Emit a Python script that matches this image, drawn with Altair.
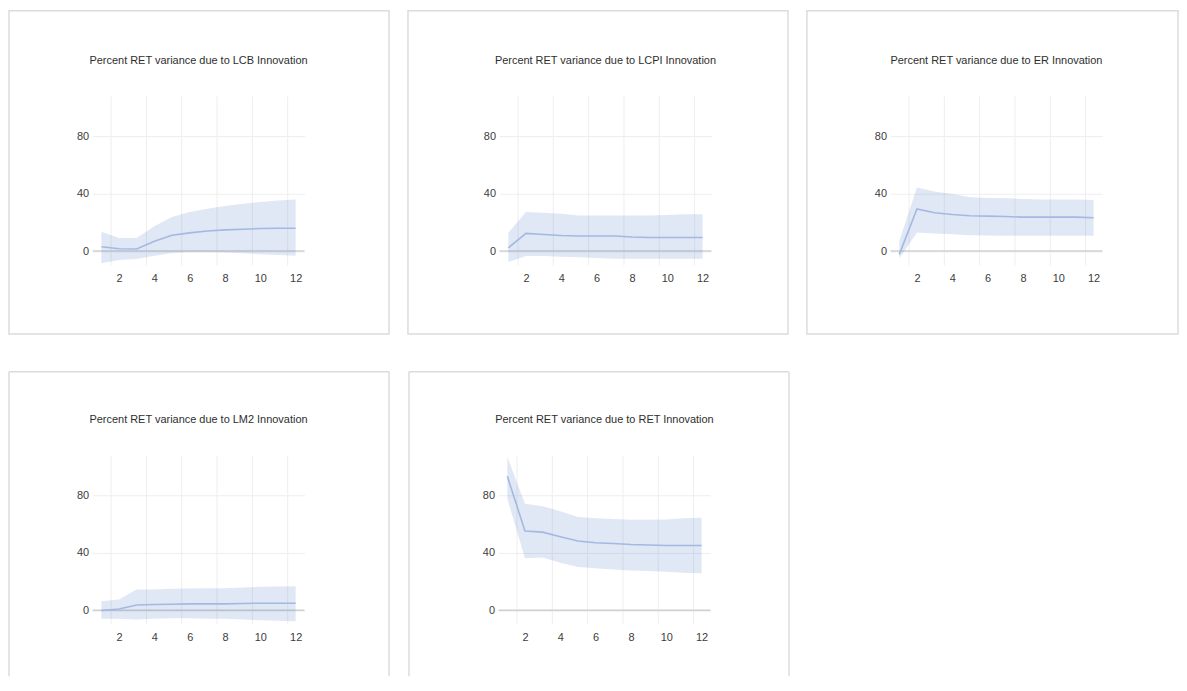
import altair as alt
import pandas as pd

# ---------------- data ----------------
steps = list(range(1, 13))
shock_names = ["LCB", "LCPI", "ER", "LM2", "RET"]
titles = [f"Percent RET variance due to {n} Innovation" for n in shock_names]

lcb_mid = [3.0, 1.6, 1.4, 6.9, 11.0, 12.7, 14.0, 14.8, 15.2, 15.7, 15.9, 15.9]
lcb_hi = [13.4, 9.2, 9.2, 17.3, 23.8, 27.2, 29.6, 31.4, 33.0, 34.2, 35.3, 36.0]
lcb_lo = [-8.5, -6.2, -5.5, -3.2, -1.4, -0.9, -0.9, -1.0, -1.6, -2.3, -2.8, -3.2]

lcpi_mid = [2.3, 12.3, 11.6, 10.9, 10.5, 10.5, 10.5, 9.8, 9.5, 9.5, 9.5, 9.5]
lcpi_hi = [12.8, 27.2, 26.7, 26.0, 24.9, 24.9, 24.9, 24.9, 24.9, 25.1, 25.6, 25.6]
lcpi_lo = [-7.7, -3.5, -3.5, -4.0, -4.4, -4.9, -5.3, -5.3, -5.3, -5.3, -5.3, -5.3]

er_mid = [-2.3, 29.4, 26.7, 25.5, 24.6, 24.4, 24.1, 23.7, 23.7, 23.7, 23.7, 23.2]
er_hi = [7.0, 44.4, 41.6, 39.8, 37.5, 37.0, 36.8, 36.3, 35.9, 35.9, 35.9, 35.6]
er_lo = [-5.0, 12.9, 12.2, 11.7, 11.0, 10.8, 10.6, 10.6, 10.6, 10.6, 10.6, 10.6]

lm2_mid = [-0.2, 0.9, 3.7, 4.0, 4.2, 4.4, 4.4, 4.4, 4.7, 4.9, 4.9, 4.9]
lm2_hi = [6.3, 7.4, 14.4, 14.4, 14.9, 15.1, 15.3, 15.3, 15.8, 16.3, 16.5, 16.7]
lm2_lo = [-6.0, -6.0, -6.5, -6.0, -5.6, -5.6, -6.0, -6.0, -6.5, -7.0, -7.4, -7.7]

ret_mid = [93.5, 55.2, 54.5, 51.3, 48.3, 47.1, 46.6, 45.9, 45.5, 45.2, 45.2, 45.2]
ret_hi = [107.0, 74.2, 72.6, 69.1, 65.0, 64.1, 63.6, 63.1, 63.1, 63.3, 64.1, 64.5]
ret_lo = [77.9, 36.2, 36.7, 33.2, 30.2, 29.2, 28.5, 27.8, 27.4, 26.9, 26.2, 25.8]

x_ticks = [2, 4, 6, 8, 10, 12]
y_ticks = [0, 40, 80]

# ---------------- style / layout ----------------
FONT = "Liberation Sans, Arial, sans-serif"
W, H = 213, 170
X_DOMAIN = [0.5, 12.5]
Y_DOMAIN = [-10, 108]
BAND = "#4a72c4"
LINE = "#a4b9e1"
GRID = "#eeeeee"
ZERO = "#d0d0d0"
FRAME = "#dcdcdc"

# (left, right, top, bottom) padding of each panel frame around the plot area
geoms = [
    (84, 85, 86, 69),
    (92, 77, 86, 69),
    (84, 76, 86, 69),
    (84, 85, 84, 52),
    (90, 79, 84, 52),
]

XS = alt.Scale(domain=X_DOMAIN, nice=False, zero=False)
YS = alt.Scale(domain=Y_DOMAIN, nice=False, zero=False)
AX = alt.Axis(values=x_ticks, grid=False, domain=False, ticks=False, title=None,
              labelPadding=7, labelFontSize=11, labelFont=FONT,
              labelColor="#3c3c3c", labelFlush=False)
AY = alt.Axis(values=y_ticks, grid=True, gridColor=GRID, domain=False, title=None,
              ticks=False, labelPadding=4, labelFontSize=11, labelFont=FONT,
              labelColor="#3c3c3c")


def panel(title, mid, lo, hi, geom, open_bottom):
    L, R, T, B = geom
    df = pd.DataFrame({"step": steps, "mid": mid, "lo": lo, "hi": hi})
    one = pd.DataFrame({"z": [0]})

    if open_bottom:
        frame = alt.layer(
            alt.Chart(one).mark_rule(color=FRAME, strokeWidth=1.5).encode(
                x=alt.value(-L), y=alt.value(-T), y2=alt.value(H + B)),
            alt.Chart(one).mark_rule(color=FRAME, strokeWidth=1.5).encode(
                x=alt.value(W + R), y=alt.value(-T), y2=alt.value(H + B)),
            alt.Chart(one).mark_rule(color=FRAME, strokeWidth=1.5).encode(
                x=alt.value(-L), x2=alt.value(W + R), y=alt.value(-T)),
        )
    else:
        frame = alt.Chart(one).mark_rect(
            fillOpacity=0, stroke=FRAME, strokeWidth=1.5
        ).encode(
            x=alt.value(-L), x2=alt.value(W + R),
            y=alt.value(-T), y2=alt.value(H + B),
        )

    vgrid = alt.Chart(pd.DataFrame({"tick": x_ticks})).mark_rule(
        color=GRID, strokeWidth=1, xOffset=-8
    ).encode(x=alt.X("tick:Q", scale=XS, axis=AX))

    zero = alt.Chart(one).mark_rule(color=ZERO, strokeWidth=1.5).encode(
        y=alt.Y("z:Q", scale=YS, axis=AY)
    )

    band = alt.Chart(df).mark_area(color=BAND, opacity=0.17).encode(
        x=alt.X("step:Q", scale=XS, axis=AX),
        y=alt.Y("lo:Q", scale=YS, axis=AY),
        y2="hi:Q",
    )
    line = alt.Chart(df).mark_line(color=LINE, strokeWidth=1.6).encode(
        x=alt.X("step:Q", scale=XS, axis=AX),
        y=alt.Y("mid:Q", scale=YS, axis=AY),
    )
    return alt.layer(frame, vgrid, zero, band, line).properties(
        width=W, height=H,
        title=alt.TitleParams(title, offset=-(T - 30), frame="group", fontSize=11,
                              font=FONT, color="#2e2e2e", fontWeight="normal"),
    )


series = [
    (lcb_mid, lcb_lo, lcb_hi),
    (lcpi_mid, lcpi_lo, lcpi_hi),
    (er_mid, er_lo, er_hi),
    (lm2_mid, lm2_lo, lm2_hi),
    (ret_mid, ret_lo, ret_hi),
]
panels = [panel(titles[i], *series[i], geoms[i], i >= 3) for i in range(5)]

chart = alt.vconcat(
    alt.hconcat(*panels[:3], spacing=17),
    alt.hconcat(*panels[3:], spacing=18),
    spacing=36,
).properties(padding=0, background="white").configure_view(stroke=None)

chart.save("out.html", embed_options={"renderer": "svg", "actions": False})
